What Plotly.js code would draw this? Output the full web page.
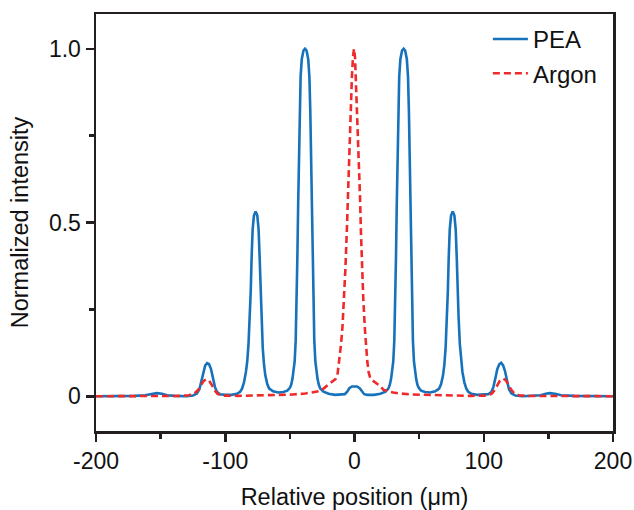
<!DOCTYPE html>
<html>
<head>
<meta charset="utf-8">
<script src="https://cdn.plot.ly/plotly-3.0.1.min.js"></script>
<style>html,body{margin:0;padding:0;background:#fff;}#chart{width:634px;height:510px;}</style>
</head>
<body>
<div id="chart"></div>
<script>
// Series names
const seriesNames = ['PEA', 'Argon'];

// PEA profile
const peaX = [-200,-185,-170,-162,-157,-153,-149,-145,-139,-130,-125,-122,-120,-118.5,-117,-115.5,-114,-112.5,-111,-109.5,-108,-106.5,-104,-100,-95,-91,-88.5,-87,-85.5,-84,-83,-82,-81,-80.3,-79.6,-78.8,-77.8,-76.5,-75.2,-74.2,-73.4,-72.7,-72,-71,-70,-69,-67.5,-66,-63,-59,-55,-52,-50,-49,-48,-47,-46.3,-45.5,-44.8,-44.2,-43.6,-43,-42.4,-41.7,-40.8,-39.5,-38.3,-37.1,-35.8,-34.9,-34.2,-33.6,-33,-32.4,-31.8,-31.1,-30.3,-29.6,-28.6,-27.6,-26.5,-24,-20,-15,-10,-7.5,-5.5,-4,-2,0,2,4,5.5,7.5,10,15,20,24,26.2,27.3,28.3,29.3,30,30.8,31.5,32.1,32.7,33.3,33.9,34.6,35.5,36.8,38,39.2,40.5,41.4,42.1,42.7,43.3,43.9,44.5,45.2,46,46.7,47.7,48.7,49.7,51.5,54.5,58.5,62.5,65.5,67,68.5,69.5,70.5,71.5,72.2,72.9,73.7,74.7,76,77.3,78.3,79.1,79.8,80.5,81.5,82.5,83.5,85,86.5,88,90.5,95,100,103.5,106,107.5,109,110.5,112,113.5,115,116.5,118,119.5,121.5,124.5,130,139,144,148,151,155,160,170,185,200];
const peaY = [0.000,0.000,0.001,0.003,0.007,0.009,0.007,0.003,0.001,0.000,0.002,0.008,0.020,0.045,0.072,0.089,0.095,0.092,0.078,0.052,0.027,0.013,0.006,0.004,0.004,0.007,0.013,0.022,0.040,0.070,0.100,0.150,0.230,0.300,0.400,0.480,0.520,0.532,0.520,0.480,0.400,0.300,0.220,0.140,0.090,0.060,0.035,0.022,0.014,0.011,0.012,0.016,0.024,0.033,0.050,0.075,0.100,0.160,0.260,0.400,0.550,0.700,0.820,0.920,0.970,0.995,1.000,0.995,0.970,0.920,0.820,0.700,0.550,0.400,0.260,0.160,0.100,0.075,0.050,0.033,0.022,0.013,0.007,0.004,0.004,0.006,0.014,0.023,0.028,0.029,0.028,0.023,0.014,0.006,0.004,0.004,0.007,0.013,0.022,0.033,0.050,0.075,0.100,0.160,0.260,0.400,0.550,0.700,0.820,0.920,0.970,0.995,1.000,0.995,0.970,0.920,0.820,0.700,0.550,0.400,0.260,0.160,0.100,0.075,0.050,0.033,0.024,0.016,0.012,0.011,0.014,0.022,0.035,0.060,0.090,0.140,0.220,0.300,0.400,0.480,0.520,0.532,0.520,0.480,0.400,0.300,0.230,0.150,0.100,0.070,0.040,0.022,0.013,0.007,0.004,0.004,0.006,0.013,0.027,0.052,0.078,0.092,0.096,0.089,0.072,0.045,0.020,0.008,0.002,0.000,0.001,0.003,0.007,0.009,0.007,0.003,0.001,0.000,0.000];

// Argon profile
const argonX = [-200,-160,-135,-128,-124,-121,-118.5,-116.5,-114.5,-112.5,-110.5,-108.5,-106,-102,-90,-75,-60,-48,-38,-30,-26.5,-24,-21,-19,-16.4,-14.5,-13.3,-12.5,-11.5,-10.4,-9.3,-8.1,-7,-6,-5.2,-4.5,-3.6,-2.9,-2,-1.2,-0.4,0.4,1.2,2.2,3.2,4.3,5,5.6,6.8,8.1,9,9.9,11,12,13.3,16,19.7,22.3,26,30,35,45,60,75,90,103,106,108.5,110.5,112.5,115,117,119,121,123.5,127,135,160,200];
const argonY = [0.000,0.000,0.001,0.003,0.008,0.018,0.033,0.045,0.049,0.045,0.033,0.018,0.007,0.002,0.001,0.002,0.003,0.005,0.008,0.012,0.015,0.022,0.031,0.037,0.045,0.050,0.058,0.080,0.115,0.150,0.200,0.280,0.370,0.470,0.570,0.660,0.770,0.850,0.920,0.975,1.000,0.975,0.900,0.780,0.670,0.570,0.470,0.390,0.280,0.190,0.140,0.100,0.068,0.055,0.047,0.039,0.030,0.019,0.014,0.011,0.008,0.005,0.003,0.002,0.001,0.002,0.007,0.018,0.033,0.045,0.051,0.046,0.034,0.020,0.009,0.003,0.001,0.000,0.000];

// Axis ticks
const xTickVals = [-200,-100,0,100,200];
const xTickText = ['-200','-100','0','100','200'];
const yTickVals = [0,0.5,1];
const yTickText = ['0','0.5','1.0'];

const axisColor = '#231f20';
const fontFam = 'Arial, "Liberation Sans", Helvetica, sans-serif';

const traces = [
  {x: peaX, y: peaY, name: seriesNames[0], type: 'scatter', mode: 'lines',
   line: {color: '#1572bb', width: 2.6}},
  {x: argonX, y: argonY, name: seriesNames[1], type: 'scatter', mode: 'lines',
   line: {color: '#ee2a2a', width: 2.6, dash: '7px,4px'}}
];

const commonAxis = {
  showgrid: false, zeroline: false, showline: true, mirror: true,
  linecolor: axisColor, linewidth: 2.5,
  ticks: 'outside', ticklen: 8, tickwidth: 2.5, tickcolor: axisColor,
  tickfont: {family: fontFam, size: 23, color: '#111'}
};

const layout = {
  width: 634, height: 510,
  margin: {l: 96, r: 21, t: 14, b: 79, pad: 0},
  paper_bgcolor: '#fff', plot_bgcolor: '#fff',
  font: {family: fontFam, size: 23, color: '#111'},
  showlegend: true,
  legend: {x: 0.758, y: 0.993, xanchor: 'left', yanchor: 'top',
           bgcolor: 'rgba(0,0,0,0)', borderwidth: 0, tracegroupgap: 0, itemwidth: 35,
           font: {family: fontFam, size: 24, color: '#111'}},
  xaxis: Object.assign({}, commonAxis, {
    range: [-200, 200], tickmode: 'array', tickvals: xTickVals, ticktext: xTickText,
    minor: {dtick: 50, tick0: 0, ticks: 'outside', ticklen: 5, tickwidth: 2.5, tickcolor: axisColor, showgrid: false},
    title: {text: 'Relative position (μm)', standoff: 24, font: {family: fontFam, size: 23.5, color: '#111'}}
  }),
  yaxis: Object.assign({}, commonAxis, {
    range: [-0.1, 1.1], tickmode: 'array', tickvals: yTickVals, ticktext: yTickText,
    minor: {dtick: 0.25, tick0: 0, ticks: 'outside', ticklen: 5, tickwidth: 2.5, tickcolor: axisColor, showgrid: false},
    title: {text: 'Normalized intensity', standoff: 14, font: {family: fontFam, size: 23.5, color: '#111'}}
  })
};

Plotly.newPlot('chart', traces, layout, {displayModeBar: false, staticPlot: true});
</script>
</body>
</html>
